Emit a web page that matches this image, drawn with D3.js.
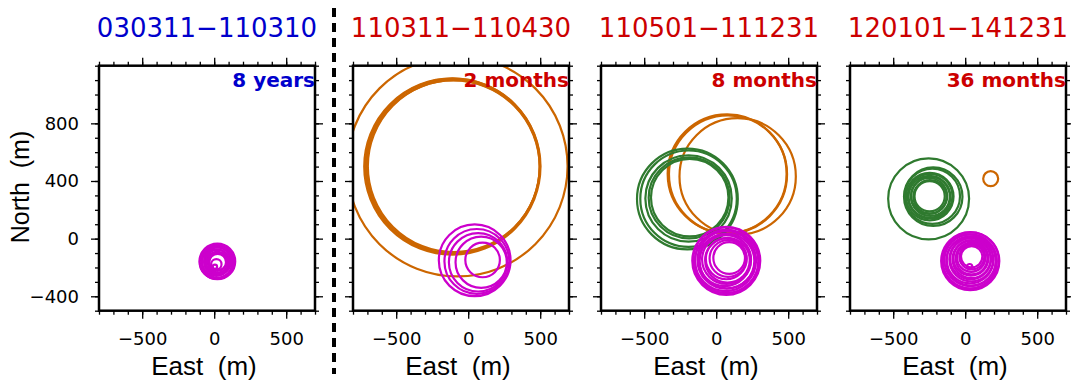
<!DOCTYPE html>
<html>
<head>
<meta charset="utf-8">
<script src="https://cdn.jsdelivr.net/npm/d3@7"></script>
<style>
  body { margin: 0; background: #fff; }
</style>
</head>
<body>
<script>
// panel titles and durations
const titles = ['030311\u2212110310', '110311\u2212110430', '110501\u2212111231', '120101\u2212141231'];
const durations = ['8 years', '2 months', '8 months', '36 months'];

// circles as [east, north, radius] in metres
const p1Magenta = [[22,-158,124],[18,-162,118],[25,-160,112],[20,-165,106],[15,-158,100],[24,-155,94],
    [18,-163,88],[22,-160,82],[20,-168,76],[26,-165,70],[22,-160,64],[24,-163,58],[15,-178,36],[5,-195,15]];
const p2Orange = [[-75,502,765],[-107,505,606],[-105,497,601],[-110,500,612],[-100,503,597]];
const p2Magenta = [[45,-150,249],[60,-158,225],[69,-164,203],[90,-164,178],[100,-148,120]];
const p3Orange = [[76,450,413],[82,446,410],[149,432,404]];
const p3Green = [[-200,275,350],[-192,277,335],[-192,279,300],[-188,283,281],[-184,285,269]];
const p3Magenta = [[70,-154,236],[68,-150,228],[72,-158,220],[65,-152,212],[70,-148,200],[75,-155,190],
    [60,-150,180],[72,-145,170],[78,-150,155],[70,-140,142],[82,-138,128],[90,-134,110]];
const p4Green = [[-254,276,281],[-222,291,203],[-228,294,192],[-246,292,165],[-244,295,155],[-248,290,145],
    [-242,293,135],[-250,296,125],[-245,291,115],[-247,294,105]];
const p4Orange = [[177,416,52]];
const p4Magenta = [[35,-156,202],[38,-152,195],[32,-158,188],[36,-150,180],[40,-155,171],[34,-148,162],
    [42,-145,152],[38,-140,142],[44,-142,132],[40,-136,121],[44,-138,110],[42,-132,98],[46,-128,86],
    [45,-126,74],[31,-194,18]];

// axis ticks
const xLabels = [-500, 0, 500];
const yLabels = [-400, 0, 400, 800];

const colors = {magenta: '#cc00cc', orange: '#cc6600', green: '#2f7a2f'};

// build the table of panels from the arrays above
const panels = [
    {title: titles[0], dur: durations[0], tColor: '#0000cc', sets: [[p1Magenta, colors.magenta]]},
    {title: titles[1], dur: durations[1], tColor: '#cc0000', sets: [[p2Orange, colors.orange], [p2Magenta, colors.magenta]]},
    {title: titles[2], dur: durations[2], tColor: '#cc0000', sets: [[p3Orange, colors.orange], [p3Green, colors.green], [p3Magenta, colors.magenta]]},
    {title: titles[3], dur: durations[3], tColor: '#cc0000', sets: [[p4Green, colors.green], [p4Orange, colors.orange], [p4Magenta, colors.magenta]]}
];

const size = {w: 216, h: 245};
const panelLeft = [99, 353, 601, 850];
const panelTop = 65.7;

const svg = d3.select('body').append('svg')
    .attr('width', 1071)
    .attr('height', 381);

const x = d3.scaleLinear().domain([-800, 700]).range([0, size.w]);
const y = d3.scaleLinear().domain([-500, 1200]).range([size.h, 0]);
const rad = d3.scaleLinear().domain([0, 1500]).range([0, size.w]);

const xMinor = d3.range(-800, 701, 100);
const yMinor = d3.range(-500, 1201, 100);

// dashed separator between first and second panel
svg.append('line')
    .attr('x1', 334).attr('x2', 334)
    .attr('y1', 8).attr('y2', 374)
    .attr('stroke', '#000')
    .attr('stroke-width', 4)
    .attr('stroke-dasharray', '9,6');

panels.forEach(function(p, i) {
    const g = svg.append('g')
        .attr('transform', `translate(${panelLeft[i]},${panelTop})`);

    g.append('clipPath').attr('id', 'clip' + i)
        .append('rect').attr('width', size.w).attr('height', size.h);

    // circles
    const cg = g.append('g').attr('clip-path', `url(#clip${i})`);
    p.sets.forEach(function(s) {
        cg.append('g').selectAll('circle')
            .data(s[0])
            .join('circle')
            .attr('cx', d => x(d[0]))
            .attr('cy', d => y(d[1]))
            .attr('r', d => rad(d[2]))
            .attr('fill', 'none')
            .attr('stroke', s[1])
            .attr('stroke-width', 2.2);
    });

    // ticks on all four sides, pointing outward
    const axes = [
        [d3.axisBottom, x, `translate(0,${size.h})`, xMinor, xLabels],
        [d3.axisTop, x, 'translate(0,0)', xMinor, xLabels],
        [d3.axisLeft, y, 'translate(0,0)', yMinor, yLabels],
        [d3.axisRight, y, `translate(${size.w},0)`, yMinor, yLabels]
    ];
    axes.forEach(function(a, j) {
        const minor = g.append('g').attr('transform', a[2])
            .call(a[0](a[1]).tickValues(a[3]).tickSize(4).tickSizeOuter(0).tickFormat(''));
        minor.select('.domain').remove();
        minor.selectAll('line').attr('stroke-width', 1.3);

        const showLabels = j === 0 || (j === 2 && i === 0);
        const major = g.append('g').attr('transform', a[2])
            .call(a[0](a[1]).tickValues(a[4]).tickSize(8).tickSizeOuter(0)
                .tickPadding(j === 0 ? 13.5 : 12)
                .tickFormat(showLabels ? d3.format('d') : ''));
        major.select('.domain').remove();
        major.selectAll('line').attr('stroke-width', 1.3);
        major.attr('font-family', 'DejaVu Sans').attr('font-size', 18);
        major.selectAll('text').attr('fill', '#000');
    });

    // frame
    g.append('rect')
        .attr('width', size.w).attr('height', size.h)
        .attr('fill', 'none')
        .attr('stroke', '#000')
        .attr('stroke-width', 2.5);

    // duration label
    g.append('text')
        .attr('x', size.w)
        .attr('y', 87 - panelTop)
        .attr('text-anchor', 'end')
        .attr('font-family', 'DejaVu Sans')
        .attr('font-weight', 'bold')
        .attr('font-size', 20)
        .attr('fill', p.tColor)
        .text(p.dur);

    // title
    g.append('text')
        .attr('x', size.w / 2)
        .attr('y', 37 - panelTop)
        .attr('text-anchor', 'middle')
        .attr('font-family', 'DejaVu Sans')
        .attr('font-size', 26)
        .attr('fill', p.tColor)
        .text(p.title);

    // x axis title
    g.append('text')
        .attr('x', size.w / 2 - 3)
        .attr('y', 375 - panelTop)
        .attr('text-anchor', 'middle')
        .attr('font-family', 'Liberation Sans')
        .attr('font-size', 26)
        .style('white-space', 'pre')
        .text('East  (m)');
});

// y axis title
svg.append('text')
    .attr('transform', 'translate(29,187) rotate(-90)')
    .attr('text-anchor', 'middle')
    .attr('font-family', 'Liberation Sans')
    .attr('font-size', 25)
    .style('white-space', 'pre')
    .text('North  (m)');
</script>
</body>
</html>
